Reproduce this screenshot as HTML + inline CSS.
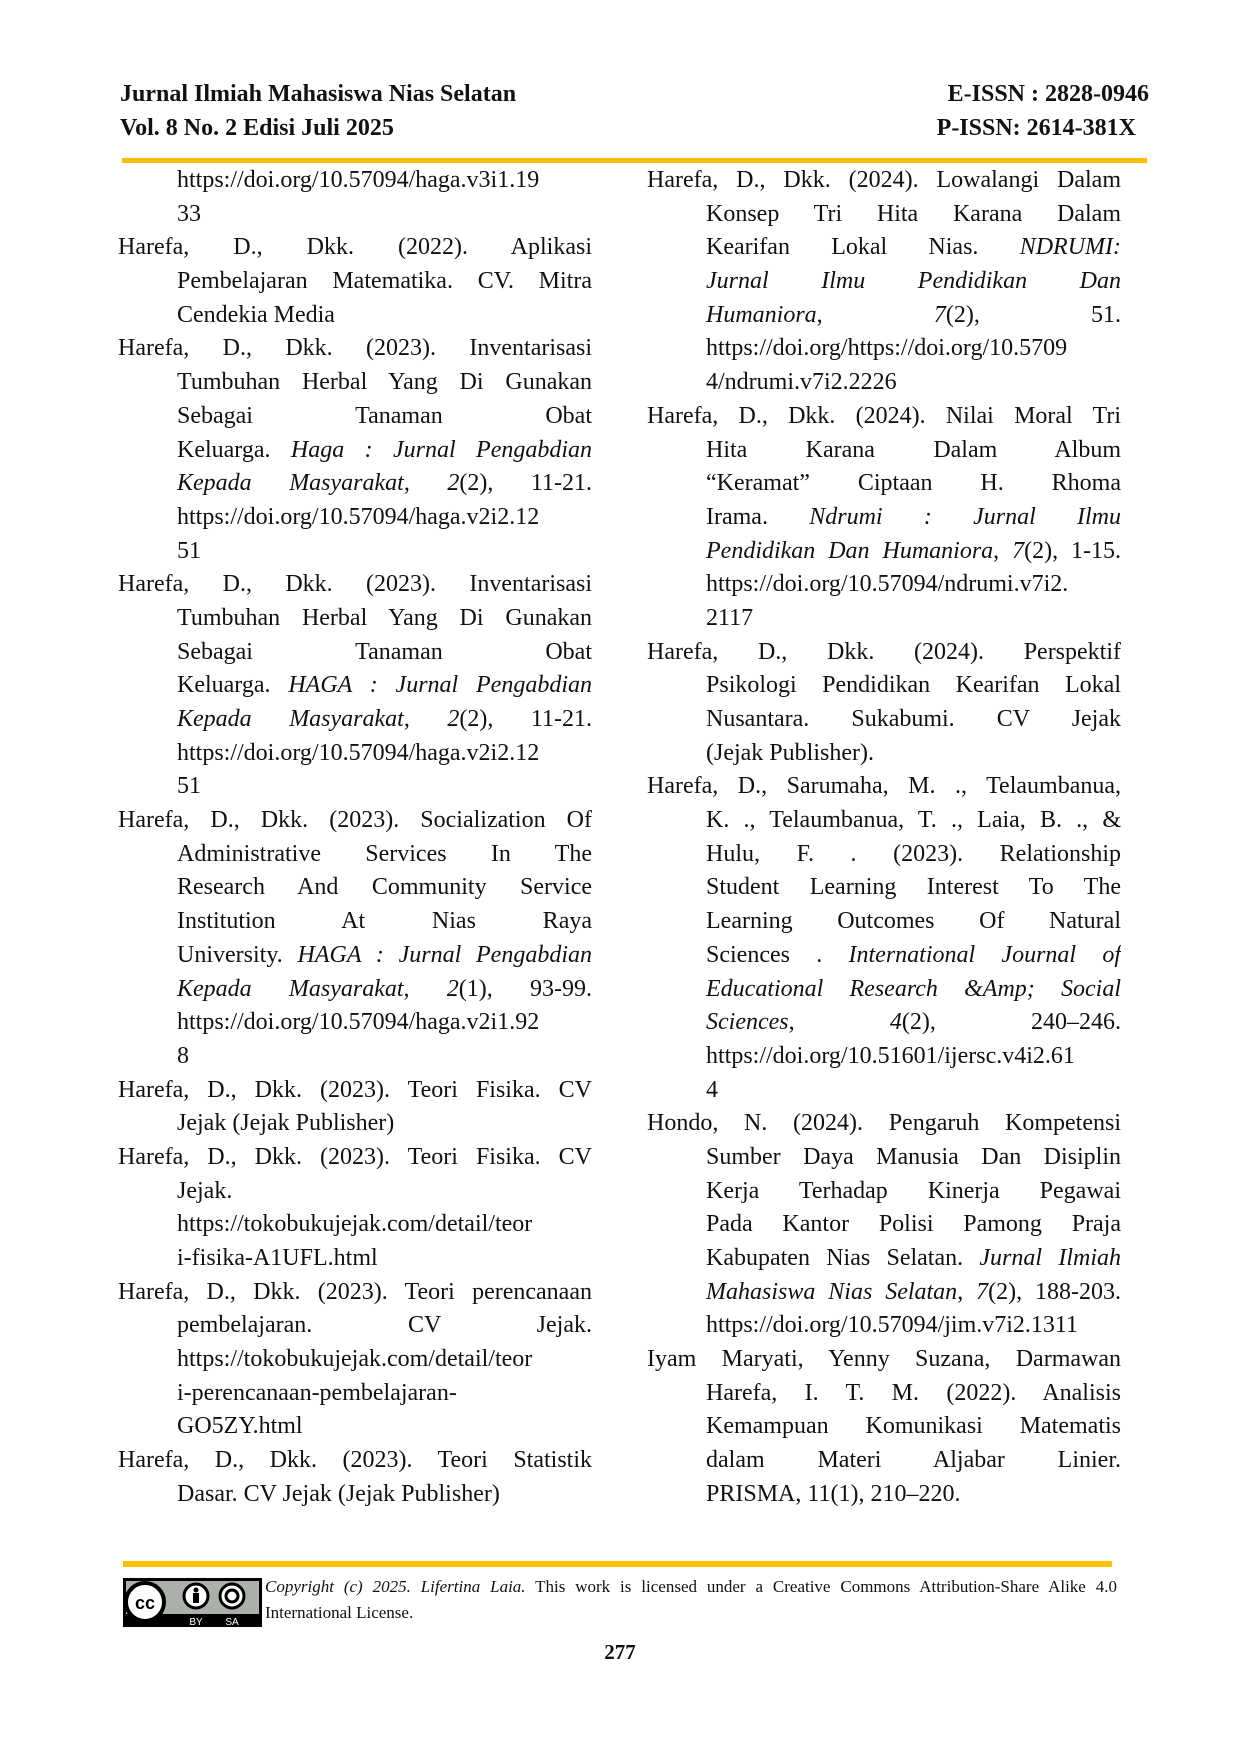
<!DOCTYPE html>
<html><head><meta charset="utf-8">
<style>
html,body{margin:0;padding:0;background:#fff;}
body{width:1240px;height:1754px;position:relative;overflow:hidden;font-family:"Liberation Serif",serif;color:#111;}
.hd{position:absolute;font-weight:bold;font-size:24px;line-height:28px;}
.bar{position:absolute;background:#ffc000;}
.col{position:absolute;top:164px;font-size:24px;line-height:33.7px;}
.col div{height:33.7px;white-space:nowrap;}
.col div.j{text-align:justify;text-align-last:justify;white-space:normal;overflow:hidden;}
.col div.i{padding-left:59px;}
#L{left:118px;width:474px;}
#R{left:647px;width:474px;}
.foot{position:absolute;left:265px;top:1574px;width:852px;font-size:17px;line-height:26px;}
.foot div.j{text-align:justify;text-align-last:justify;}
.pg{position:absolute;left:0;width:1240px;top:1640px;text-align:center;font-weight:bold;font-size:21px;}
</style></head><body>
<div class="hd" style="left:120px;top:80px;">Jurnal Ilmiah Mahasiswa Nias Selatan</div>
<div class="hd" style="left:120px;top:114px;">Vol. 8 No. 2 Edisi Juli 2025</div>
<div class="hd" style="right:91px;top:80px;">E-ISSN : 2828-0946</div>
<div class="hd" style="right:104px;top:114px;">P-ISSN: 2614-381X</div>
<div class="bar" style="left:122px;top:158px;width:1025px;height:5px;"></div>

<div class="col" id="L">
<div class="i">https://doi.org/10.57094/haga.v3i1.19</div>
<div class="i">33</div>
<div class="j">Harefa, D., Dkk. (2022). Aplikasi</div>
<div class="j i">Pembelajaran Matematika. CV. Mitra</div>
<div class="i">Cendekia Media</div>
<div class="j">Harefa, D., Dkk. (2023). Inventarisasi</div>
<div class="j i">Tumbuhan Herbal Yang Di Gunakan</div>
<div class="j i">Sebagai Tanaman Obat</div>
<div class="j i">Keluarga. <i>Haga : Jurnal Pengabdian</i></div>
<div class="j i"><i>Kepada Masyarakat</i>, <i>2</i>(2), 11-21.</div>
<div class="i">https://doi.org/10.57094/haga.v2i2.12</div>
<div class="i">51</div>
<div class="j">Harefa, D., Dkk. (2023). Inventarisasi</div>
<div class="j i">Tumbuhan Herbal Yang Di Gunakan</div>
<div class="j i">Sebagai Tanaman Obat</div>
<div class="j i">Keluarga. <i>HAGA : Jurnal Pengabdian</i></div>
<div class="j i"><i>Kepada Masyarakat</i>, <i>2</i>(2), 11-21.</div>
<div class="i">https://doi.org/10.57094/haga.v2i2.12</div>
<div class="i">51</div>
<div class="j">Harefa, D., Dkk. (2023). Socialization Of</div>
<div class="j i">Administrative Services In The</div>
<div class="j i">Research And Community Service</div>
<div class="j i">Institution At Nias Raya</div>
<div class="j i">University. <i>HAGA : Jurnal Pengabdian</i></div>
<div class="j i"><i>Kepada Masyarakat</i>, <i>2</i>(1), 93-99.</div>
<div class="i">https://doi.org/10.57094/haga.v2i1.92</div>
<div class="i">8</div>
<div class="j">Harefa, D., Dkk. (2023). Teori Fisika. CV</div>
<div class="i">Jejak (Jejak Publisher)</div>
<div class="j">Harefa, D., Dkk. (2023). Teori Fisika. CV</div>
<div class="i">Jejak.</div>
<div class="i">https://tokobukujejak.com/detail/teor</div>
<div class="i">i-fisika-A1UFL.html</div>
<div class="j">Harefa, D., Dkk. (2023). Teori perencanaan</div>
<div class="j i">pembelajaran. CV Jejak.</div>
<div class="i">https://tokobukujejak.com/detail/teor</div>
<div class="i">i-perencanaan-pembelajaran-</div>
<div class="i">GO5ZY.html</div>
<div class="j">Harefa, D., Dkk. (2023). Teori Statistik</div>
<div class="i">Dasar. CV Jejak (Jejak Publisher)</div>
</div>

<div class="col" id="R">
<div class="j">Harefa, D., Dkk. (2024). Lowalangi Dalam</div>
<div class="j i">Konsep Tri Hita Karana Dalam</div>
<div class="j i">Kearifan Lokal Nias. <i>NDRUMI:</i></div>
<div class="j i"><i>Jurnal Ilmu Pendidikan Dan</i></div>
<div class="j i"><i>Humaniora</i>, <i>7</i>(2), 51.</div>
<div class="i">https://doi.org/https://doi.org/10.5709</div>
<div class="i">4/ndrumi.v7i2.2226</div>
<div class="j">Harefa, D., Dkk. (2024). Nilai Moral Tri</div>
<div class="j i">Hita Karana Dalam Album</div>
<div class="j i">“Keramat” Ciptaan H. Rhoma</div>
<div class="j i">Irama. <i>Ndrumi : Jurnal Ilmu</i></div>
<div class="j i"><i>Pendidikan Dan Humaniora</i>, <i>7</i>(2), 1-15.</div>
<div class="i">https://doi.org/10.57094/ndrumi.v7i2.</div>
<div class="i">2117</div>
<div class="j">Harefa, D., Dkk. (2024). Perspektif</div>
<div class="j i">Psikologi Pendidikan Kearifan Lokal</div>
<div class="j i">Nusantara. Sukabumi. CV Jejak</div>
<div class="i">(Jejak Publisher).</div>
<div class="j">Harefa, D., Sarumaha, M. ., Telaumbanua,</div>
<div class="j i">K. ., Telaumbanua, T. ., Laia, B. ., &amp;</div>
<div class="j i">Hulu, F. . (2023). Relationship</div>
<div class="j i">Student Learning Interest To The</div>
<div class="j i">Learning Outcomes Of Natural</div>
<div class="j i">Sciences . <i>International Journal of</i></div>
<div class="j i"><i>Educational Research &amp;Amp; Social</i></div>
<div class="j i"><i>Sciences</i>, <i>4</i>(2), 240–246.</div>
<div class="i">https://doi.org/10.51601/ijersc.v4i2.61</div>
<div class="i">4</div>
<div class="j">Hondo, N. (2024). Pengaruh Kompetensi</div>
<div class="j i">Sumber Daya Manusia Dan Disiplin</div>
<div class="j i">Kerja Terhadap Kinerja Pegawai</div>
<div class="j i">Pada Kantor Polisi Pamong Praja</div>
<div class="j i">Kabupaten Nias Selatan. <i>Jurnal Ilmiah</i></div>
<div class="j i"><i>Mahasiswa Nias Selatan</i>, <i>7</i>(2), 188-203.</div>
<div class="i">https://doi.org/10.57094/jim.v7i2.1311</div>
<div class="j">Iyam Maryati, Yenny Suzana, Darmawan</div>
<div class="j i">Harefa, I. T. M. (2022). Analisis</div>
<div class="j i">Kemampuan Komunikasi Matematis</div>
<div class="j i">dalam Materi Aljabar Linier.</div>
<div class="i">PRISMA, 11(1), 210–220.</div>
</div>

<div class="bar" style="left:123px;top:1561px;width:989px;height:6px;"></div>
<svg style="position:absolute;left:123px;top:1578px;" width="139" height="49" viewBox="0 0 139 49">
<rect x="0" y="0" width="139" height="49" fill="#000"/>
<rect x="3" y="3" width="133" height="33" fill="#abb1aa"/>
<circle cx="22" cy="24" r="19" fill="#fff" stroke="#000" stroke-width="4"/>
<text x="22" y="31" font-family="Liberation Sans,sans-serif" font-weight="bold" font-size="18" text-anchor="middle" fill="#000">cc</text>
<circle cx="73" cy="18" r="12" fill="#fff" stroke="#000" stroke-width="3"/>
<circle cx="73" cy="12" r="2.5" fill="#000"/>
<rect x="70" y="15" width="6" height="10" fill="#000"/>
<circle cx="109" cy="18" r="12" fill="#fff" stroke="#000" stroke-width="3"/>
<circle cx="109" cy="18" r="6" fill="none" stroke="#000" stroke-width="3"/>
<text x="73" y="47" font-family="Liberation Sans,sans-serif" font-size="10" text-anchor="middle" fill="#fff">BY</text>
<text x="109" y="47" font-family="Liberation Sans,sans-serif" font-size="10" text-anchor="middle" fill="#fff">SA</text>
</svg>
<div class="foot"><div class="j"><i>Copyright (c) 2025. Lifertina Laia.</i> This work is licensed under a Creative Commons Attribution-Share Alike 4.0</div><div>International License.</div></div>
<div class="pg">277</div>
</body></html>
